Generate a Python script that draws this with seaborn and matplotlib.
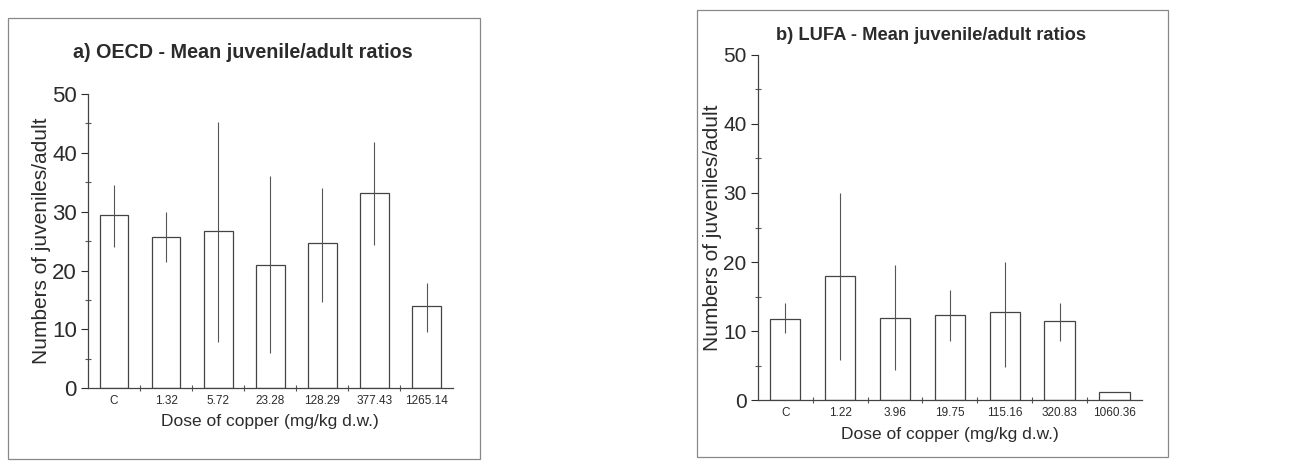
import matplotlib
matplotlib.use("Agg")
import matplotlib.pyplot as plt
from matplotlib.patches import Rectangle
from matplotlib.ticker import MultipleLocator
import numpy as np
import pandas as pd
import seaborn as sns

# a) OECD soil
oecd_doses = ["C", "1.32", "5.72", "23.28", "128.29", "377.43", "1265.14"]
oecd_mean = [29.4, 25.7, 26.8, 20.9, 24.6, 33.1, 13.9]
oecd_low = [24.0, 21.5, 7.8, 5.9, 14.7, 24.3, 9.5]
oecd_high = [34.5, 30.0, 45.3, 36.0, 34.0, 41.9, 17.8]

# b) LUFA soil
lufa_doses = ["C", "1.22", "3.96", "19.75", "115.16", "320.83", "1060.36"]
lufa_mean = [11.8, 18.0, 11.9, 12.3, 12.7, 11.4, 1.2]
lufa_low = [9.7, 5.8, 4.3, 8.5, 4.8, 8.5, 1.2]
lufa_high = [14.0, 30.0, 19.6, 15.9, 20.0, 14.0, 1.2]

sns.set_theme(style="white")
plt.rcParams['font.family'] = ['Liberation Sans', 'DejaVu Sans']

INK = "#2b2b2b"


def draw_panel(ax, doses, mean, low, high, title, title_x, title_y,
               title_size, ytick_size, xlabel_pad):
    df = pd.DataFrame({"dose": doses, "mean": mean})
    sns.barplot(data=df, x="dose", y="mean", order=doses, color="white",
                edgecolor="#444444", linewidth=0.9, width=0.55,
                errorbar=None, ax=ax)
    x = np.arange(len(doses))
    m = np.array(mean)
    yerr = [m - np.array(low), np.array(high) - m]
    ax.errorbar(x, m, yerr=yerr, fmt="none", ecolor="#555555",
                elinewidth=0.8, capsize=0)

    ax.set_ylim(0, 50)
    ax.set_xlim(-0.5, len(doses) - 0.5)
    ax.yaxis.set_major_locator(MultipleLocator(10))
    ax.yaxis.set_minor_locator(MultipleLocator(5))
    ax.set_xticks(x)
    ax.set_xticks(x[:-1] + 0.5, minor=True)
    ax.tick_params(axis="x", which="major", length=0, labelsize=8.5,
                   colors=INK, pad=5)
    ax.tick_params(axis="x", which="minor", length=5, direction="inout",
                   width=0.8, color="#555555")
    ax.tick_params(axis="y", which="major", length=5, direction="out",
                   width=0.8, labelsize=ytick_size, colors=INK, pad=3)
    ax.tick_params(axis="y", which="minor", length=4, direction="inout",
                   width=0.8, color="#555555")
    ax.tick_params(axis="both", which="both", bottom=True, left=True)

    for side in ["top", "right"]:
        ax.spines[side].set_visible(False)
    for side in ["left", "bottom"]:
        ax.spines[side].set_color("#444444")
        ax.spines[side].set_linewidth(0.9)

    ax.set_xlabel("Dose of copper (mg/kg d.w.)", fontsize=12.5, color=INK,
                  labelpad=xlabel_pad)
    ax.set_ylabel("Numbers of juveniles/adult", fontsize=15, color=INK,
                  labelpad=1)
    ax.set_title(title, fontsize=title_size, fontweight="bold", color=INK,
                 x=title_x, y=title_y)


fig = plt.figure(figsize=(13.02, 4.61), dpi=100)

ax_a = fig.add_axes([0.0676, 0.158, 0.280, 0.638])
draw_panel(ax_a, oecd_doses, oecd_mean, oecd_low, oecd_high,
           "a) OECD - Mean juvenile/adult ratios", 0.425, 1.095, 14.2, 16, 5)

ax_b = fig.add_axes([0.582, 0.132, 0.295, 0.749])
draw_panel(ax_b, lufa_doses, lufa_mean, lufa_low, lufa_high,
           "b) LUFA - Mean juvenile/adult ratios", 0.45, 1.02, 13.2, 15, 6)

# panel frames
W, H = 1302, 461
for x0, y0, x1, y1 in [(8, 18, 480, 459), (697, 10, 1168, 457)]:
    fig.patches.append(Rectangle((x0 / W, 1 - y1 / H), (x1 - x0) / W,
                                 (y1 - y0) / H, transform=fig.transFigure,
                                 fill=False, edgecolor="#888888",
                                 linewidth=0.9))

fig.savefig("out.png", dpi=100, facecolor="white")
